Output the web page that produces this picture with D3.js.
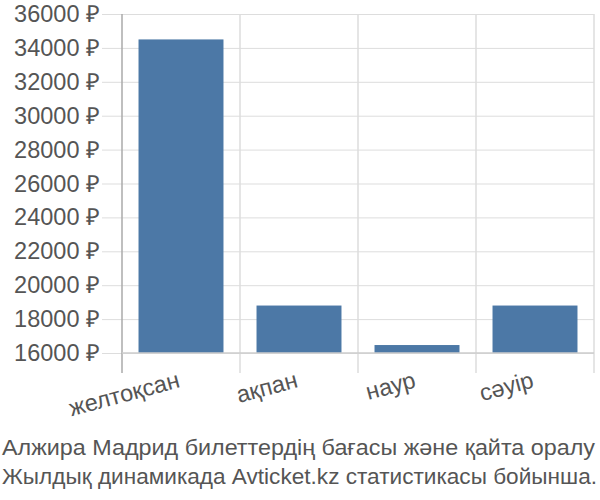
<!DOCTYPE html>
<html>
<head>
<meta charset="utf-8">
<script src="https://cdn.jsdelivr.net/npm/d3@7"></script>
<style>
  body { margin: 0; background: #fff; }
  text { font-family: "Liberation Sans", Arial, sans-serif; }
</style>
</head>
<body>
<script>
// Данные
const months = ["желтоқсан", "ақпан", "наур", "сәуір"];
const prices = [34500, 18800, 16470, 18800];
const yTicks = [16000, 18000, 20000, 22000, 24000, 26000, 28000, 30000, 32000, 34000, 36000];
const titleLines = [
    "Алжира Мадрид билеттердің бағасы және қайта оралу",
    "Жылдық динамикада Avticket.kz статистикасы бойынша."
];

const width = 600, height = 500;
const margin = { top: 14, right: 6, bottom: 147, left: 122 };
const innerW = width - margin.left - margin.right;
const innerH = height - margin.top - margin.bottom;

const svg = d3.select("body").append("svg")
    .attr("width", width)
    .attr("height", height);

const g = svg.append("g")
    .attr("transform", "translate(" + margin.left + "," + margin.top + ")");

const x = d3.scaleBand()
    .domain(months)
    .range([0, innerW])
    .paddingInner(0.28)
    .paddingOuter(0.14);

const y = d3.scaleLinear()
    .domain([16000, 36000])
    .range([innerH, 0]);

// Горизонтальная сетка + подписи
const yAxis = g.append("g")
    .call(d3.axisLeft(y).tickValues(yTicks).tickSize(-innerW - 20).tickFormat(d => d + " ₽").tickPadding(2))
    .attr("transform", "translate(-20,0)");
yAxis.select(".domain").remove();
yAxis.selectAll("line").attr("stroke", "#ddd");
yAxis.selectAll("text").attr("fill", "#555").style("font-size", "23.5px");

// Вертикальная сетка
g.selectAll(".vgrid")
    .data(d3.range(months.length + 1))
    .enter().append("line")
    .attr("x1", i => i * innerW / months.length)
    .attr("x2", i => i * innerW / months.length)
    .attr("y1", 0)
    .attr("y2", innerH + 20)
    .attr("stroke", (d, i) => i === 0 ? "#aaa" : "#ddd")
    .attr("stroke-width", 1.5);

// Столбцы
g.selectAll(".bar")
    .data(months)
    .enter().append("rect")
    .attr("class", "bar")
    .attr("x", d => x(d))
    .attr("y", (d, i) => y(prices[i]))
    .attr("width", x.bandwidth())
    .attr("height", (d, i) => innerH - y(prices[i]))
    .attr("fill", "#4c78a6");

// Нижняя линия
g.append("line")
    .attr("x1", 0).attr("x2", innerW)
    .attr("y1", innerH).attr("y2", innerH)
    .attr("stroke", "#ccc").attr("stroke-width", 1.5);

// Подписи оси X
g.selectAll(".xlab")
    .data(months)
    .enter().append("text")
    .attr("transform", d => "translate(" + (x(d) + x.bandwidth() / 2) + "," + (innerH + 34) + ") rotate(-15)")
    .attr("text-anchor", "end")
    .attr("fill", "#555")
    .style("font-size", "23.5px")
    .text(d => d);

// Заголовок (ширина строк как в оригинале)
const titleWidths = [593, 595];
svg.selectAll(".title")
    .data(titleLines)
    .enter().append("text")
    .attr("x", 2)
    .attr("y", (d, i) => 455 + i * 29)
    .attr("fill", "#555")
    .style("font-size", "22.5px")
    .attr("textLength", (d, i) => titleWidths[i])
    .attr("lengthAdjust", "spacingAndGlyphs")
    .text(d => d);
</script>
</body>
</html>
